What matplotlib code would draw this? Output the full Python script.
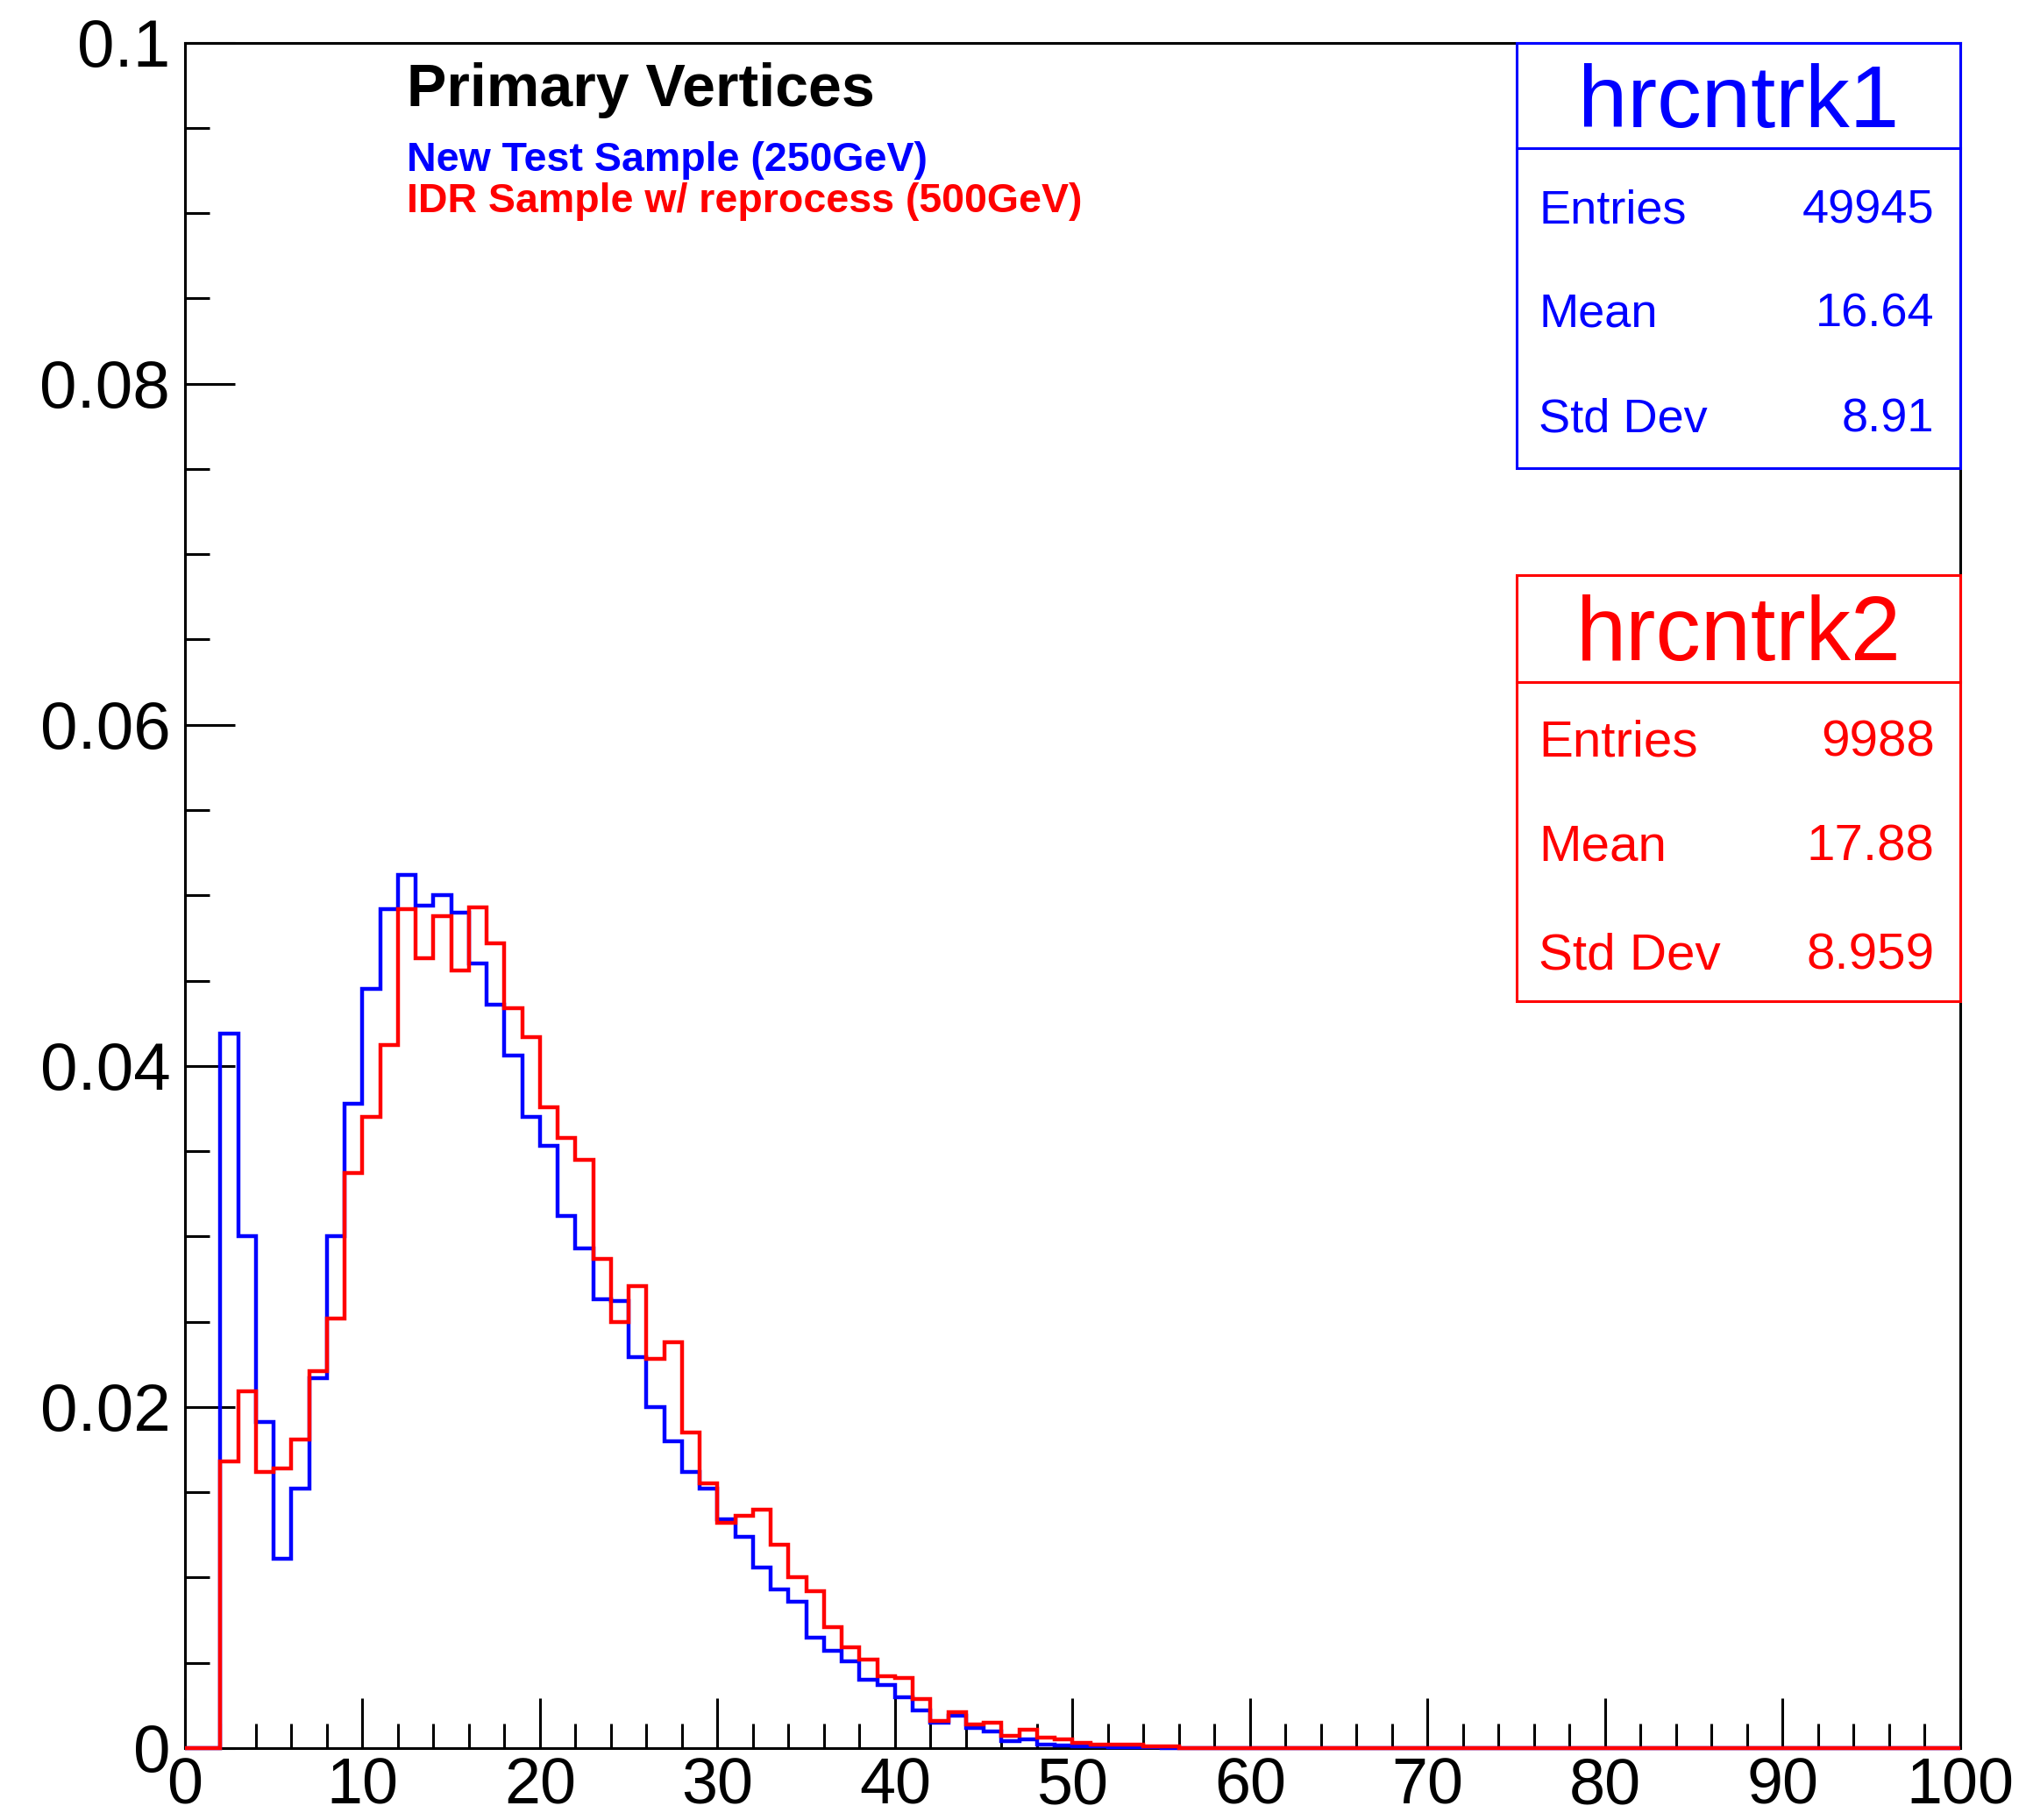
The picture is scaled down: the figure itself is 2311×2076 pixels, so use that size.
import numpy as np
import matplotlib
matplotlib.use("Agg")
import matplotlib.pyplot as plt
from matplotlib.patches import Rectangle
from matplotlib.lines import Line2D

plt.rcParams['font.family'] = ['Liberation Sans', 'DejaVu Sans']

# bin edges (1 unit wide, 0..100)
bin_edges = np.arange(0, 101)

# hrcntrk1 - New Test Sample (250GeV), bins 0..59 (rest empty)
blue_vals = [0.0, 0.0, 0.0419, 0.0300, 0.0191, 0.0111, 0.0152, 0.0217, 0.0300, 0.0378,
             0.0445, 0.0492, 0.0512, 0.0494, 0.0500, 0.0490, 0.0460, 0.0436, 0.0406, 0.0370,
             0.0353, 0.0312, 0.0293, 0.0263, 0.0262, 0.0229, 0.0200, 0.0180, 0.0162, 0.0152,
             0.0134, 0.0124, 0.0106, 0.0093, 0.0086, 0.0065, 0.0057, 0.0051, 0.0040, 0.0037,
             0.0030, 0.0022, 0.0015, 0.0019, 0.0012, 0.0010, 0.0004, 0.0005, 0.0002, 0.00017,
             0.0001, 0.00008, 0.00006, 0.00005, 0.00003, 0.00002, 0.0, 0.0, 0.0, 0.0]

# hrcntrk2 - IDR Sample w/ reprocess (500GeV)
red_vals = [0.0, 0.0, 0.0168, 0.0209, 0.0162, 0.0164, 0.0181, 0.0221, 0.0252, 0.0337,
            0.0370, 0.0412, 0.0492, 0.0463, 0.0488, 0.0456, 0.0493, 0.0472, 0.0434, 0.0417,
            0.0376, 0.0358, 0.0345, 0.0287, 0.0250, 0.0271, 0.0228, 0.0238, 0.0185, 0.0155,
            0.0132, 0.0136, 0.0140, 0.0119, 0.0100, 0.0092, 0.0071, 0.0059, 0.0052, 0.0042,
            0.0041, 0.0029, 0.0016, 0.0021, 0.0014, 0.0015, 0.0007, 0.0011, 0.0006, 0.0005,
            0.0003, 0.0002, 0.0002, 0.0002, 0.0001, 0.0001, 0.0, 0.0, 0.0, 0.0]

blue_full = blue_vals + [0.0] * 40
red_full = red_vals + [0.0] * 40

y_ticks = [0, 0.02, 0.04, 0.06, 0.08, 0.1]
y_ticklabels = ["0", "0.02", "0.04", "0.06", "0.08", "0.1"]
x_ticks = [0, 10, 20, 30, 40, 50, 60, 70, 80, 90, 100]

stats1 = [("Entries", "49945"), ("Mean", "16.64"), ("Std Dev", "8.91")]
stats2 = [("Entries", "9988"), ("Mean", "17.88"), ("Std Dev", "8.959")]

BLUE = (0, 0, 1)
RED = (1, 0, 0)

fig = plt.figure(figsize=(23.11, 20.76), dpi=100)
ax = fig.add_axes([0.0913, 0.0395, 0.9675 - 0.0913, 0.9766 - 0.0395])

ax.stairs(blue_full, bin_edges, color=BLUE, linewidth=3.2, zorder=3, clip_on=False)
ax.stairs(red_full, bin_edges, color=RED, linewidth=3.2, zorder=4, clip_on=False)

ax.set_xlim(0, 100)
ax.set_ylim(0, 0.1)

ax.set_xticks(x_ticks)
ax.set_xticks(np.arange(0, 101, 2), minor=True)
ax.set_yticks(y_ticks)
ax.set_yticklabels(y_ticklabels)
ax.set_yticks(np.arange(0, 0.1001, 0.005), minor=True)

ax.tick_params(which='both', direction='in', top=False, right=False, width=2.2)
ax.tick_params(which='major', length=41)
ax.tick_params(which='minor', length=20)
ax.tick_params(axis='x', pad=7, labelsize=53)
ax.tick_params(axis='y', pad=12, labelsize=55)
for s in ax.spines.values():
    s.set_linewidth(2.2)

# header text
fig.text(0.2009, 0.9503, "Primary Vertices", fontsize=49, fontweight='bold',
         color='black', ha='left', va='center')
fig.text(0.2009, 0.9120, "New Test Sample (250GeV)", fontsize=33.5, fontweight='bold',
         color=BLUE, ha='left', va='center')
fig.text(0.2009, 0.8893, "IDR Sample w/ reprocess (500GeV)", fontsize=33.5, fontweight='bold',
         color=RED, ha='left', va='center')


def stats_box(top, bottom, sep, title_y, row_ys, name, rows, color, tsize, rsize):
    x0, x1 = 0.7486, 0.9675
    fig.add_artist(Rectangle((x0, bottom), x1 - x0, top - bottom, transform=fig.transFigure,
                             facecolor='white', edgecolor=color, linewidth=2.2, zorder=5))
    fig.add_artist(Line2D([x0, x1], [sep, sep], transform=fig.transFigure,
                          color=color, linewidth=2.2, zorder=6))
    fig.text((x0 + x1) / 2, title_y, name, fontsize=tsize, color=color,
             ha='center', va='center', zorder=7)
    for (lab, val), yy in zip(rows, row_ys):
        fig.text(0.7596, yy, lab, fontsize=rsize, color=color, ha='left', va='center', zorder=7)
        fig.text(0.9548, yy, val, fontsize=rsize, color=color, ha='right', va='center', zorder=7)


stats_box(0.9766, 0.7430, 0.9184, 0.9425, [0.8843, 0.8275, 0.7693],
          "hrcntrk1", stats1, BLUE, 73, 39)
stats_box(0.6841, 0.4497, 0.6251, 0.6500, [0.5918, 0.5343, 0.4746],
          "hrcntrk2", stats2, RED, 74, 42)

fig.savefig("out.png", dpi=100)
